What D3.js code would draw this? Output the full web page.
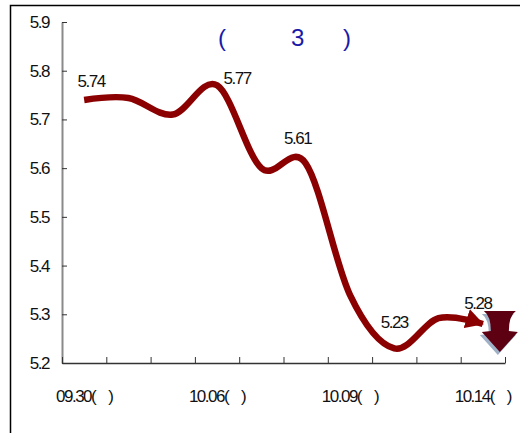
<!DOCTYPE html>
<html>
<head>
<meta charset="utf-8">
<script src="https://cdn.jsdelivr.net/npm/d3@7"></script>
<style>
  body { margin: 0; background: #fff; }
  text { font-family: "Liberation Sans", Arial, sans-serif; }
</style>
</head>
<body>
<script>
// カテゴリ（ラベルのない日は空）
var categories = ["09.30(    )", "", "", "10.06(    )", "", "", "10.09(    )", "", "", "10.14(    )"];
// 値
var values = [5.74, 5.744, 5.71, 5.77, 5.60, 5.61, 5.34, 5.23, 5.292, 5.28];
// データラベルを付ける点
var labelIndex = [0, 3, 5, 7, 9];
var labelText = ["5.74", "5.77", "5.61", "5.23", "5.28"];
// Y軸目盛
var yTicks = [5.2, 5.3, 5.4, 5.5, 5.6, 5.7, 5.8, 5.9];
// タイトル（表示される文字のみ）
var titleParts = ["(", "3", ")"];

var W = 520, H = 433;
var margin = {top: 22, right: 15, bottom: 70, left: 62},
    width = 505 - margin.left,
    height = 363 - margin.top;

var svg = d3.select("body").append("svg")
    .attr("width", W)
    .attr("height", H);

// 外枠
svg.append("rect")
    .attr("x", 10.5).attr("y", 5.5)
    .attr("width", 540).attr("height", 460)
    .attr("fill", "none")
    .attr("stroke", "#000")
    .attr("stroke-width", 1.5);

var g = svg.append("g")
    .attr("transform", "translate(" + margin.left + "," + margin.top + ")");

// X: 区切り用の線形スケール（点は区間の中央）
var x = d3.scaleLinear().domain([0, categories.length]).range([0, width]);
var y = d3.scaleLinear().domain([5.2, 5.9]).range([height, 0]);

var fs = 17, ls = "-1.5px";

// Y軸
var yAxis = d3.axisLeft(y)
    .tickValues(yTicks)
    .tickSize(-5)
    .tickSizeOuter(0)
    .tickPadding(13)
    .tickFormat(d3.format(".1f"));

var gy = g.append("g").attr("class", "y axis").call(yAxis);
gy.select(".domain").attr("stroke", "#8a8a8a").attr("stroke-width", 2);
gy.selectAll(".tick line").attr("stroke", "#333");
gy.selectAll(".tick text")
    .attr("font-size", fs)
    .attr("letter-spacing", ls)
    .attr("fill", "#111");

// X軸（目盛は区切り位置）
var xAxis = d3.axisBottom(x)
    .tickValues(d3.range(categories.length + 1))
    .tickSize(-6)
    .tickSizeOuter(0)
    .tickFormat("");

var gx = g.append("g").attr("class", "x axis")
    .attr("transform", "translate(0," + height + ")")
    .call(xAxis);
gx.select(".domain").attr("stroke", "#333").attr("stroke-width", 1.5);
gx.selectAll(".tick line").attr("stroke", "#333");

// X軸ラベル
g.append("g").selectAll("text")
    .data(categories.map(function (c, i) { return {c: c, i: i}; }).filter(function (d) { return d.c; }))
    .enter().append("text")
    .attr("x", function (d) { return x(d.i + 0.5); })
    .attr("y", height + 39)
    .attr("text-anchor", "middle")
    .attr("font-size", fs)
    .attr("letter-spacing", ls)
    .attr("fill", "#111")
    .style("white-space", "pre")
    .text(function (d) { return d.c; });

// タイトル
var titleX = [156, 229, 281];
svg.append("text")
    .attr("y", 46)
    .attr("font-size", 24)
    .attr("fill", "#1a1aa8")
    .selectAll("tspan")
    .data(titleParts)
    .enter().append("tspan")
    .attr("x", function (d, i) { return margin.left + titleX[i]; })
    .text(function (d) { return d; });

// 矢印マーカー
svg.append("defs").append("marker")
    .attr("id", "arrow")
    .attr("markerUnits", "userSpaceOnUse")
    .attr("viewBox", "0 0 18 20")
    .attr("markerWidth", 18)
    .attr("markerHeight", 20)
    .attr("refX", 17)
    .attr("refY", 10)
    .attr("orient", "auto")
    .append("path")
    .attr("d", "M0,0 L18,10 L0,20 Z")
    .attr("fill", "#8b0000");

// 折れ線（スムージング）
var line = d3.line()
    .x(function (d, i) { return x(i + 0.5); })
    .y(function (d) { return y(d); })
    .curve(d3.curveCardinal.tension(0));

g.append("path")
    .datum(values)
    .attr("d", line)
    .attr("fill", "none")
    .attr("stroke", "#8b0000")
    .attr("stroke-width", 6.5)
    .attr("stroke-linejoin", "round")
    .attr("marker-end", "url(#arrow)");

// データラベル
var labelOffset = [[7, -19], [20, -7], [-8, -25], [0, -26], [-5, -21]];
g.append("g").selectAll("text")
    .data(labelIndex)
    .enter().append("text")
    .attr("x", function (d, k) { return x(d + 0.5) + labelOffset[k][0]; })
    .attr("y", function (d, k) { return y(values[d]) + labelOffset[k][1]; })
    .attr("dy", "0.35em")
    .attr("text-anchor", "middle")
    .attr("font-size", fs)
    .attr("letter-spacing", ls)
    .attr("fill", "#111")
    .text(function (d, k) { return labelText[k]; });

// 下向き矢印アイコン（最後の点の右）
var last = values.length - 1;
var ax = x(last + 0.5) + 17, ay = y(values[last]) - 13;
var arrowPath = "M-16,0 L16,0 Q9,5 9,20 L18,21 L0,41 L-18,21 L-9,20 Q-9,5 -16,0 Z";
var icon = g.append("g").attr("transform", "translate(" + ax + "," + ay + ")");
icon.append("path")
    .attr("d", arrowPath)
    .attr("transform", "translate(-2,3)")
    .attr("fill", "#9fb1c7");
icon.append("path")
    .attr("d", arrowPath)
    .attr("fill", "#5c0012");
</script>
</body>
</html>
